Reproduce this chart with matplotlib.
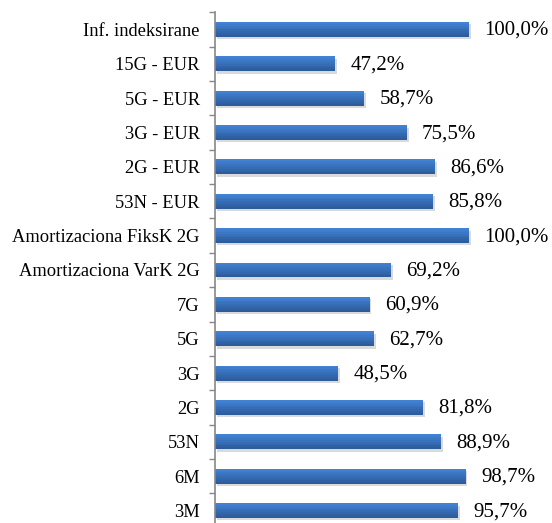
import matplotlib
matplotlib.use("Agg")
import matplotlib.pyplot as plt
import matplotlib.colors as mcolors
import numpy as np

categories = ["Inf. indeksirane", "15G - EUR", "5G - EUR", "3G - EUR", "2G - EUR",
              "53N - EUR", "Amortizaciona FiksK 2G", "Amortizaciona VarK 2G",
              "7G", "5G", "3G", "2G", "53N", "6M", "3M"]
values = [100.0, 47.2, 58.7, 75.5, 86.6, 85.8, 100.0, 69.2, 60.9, 62.7, 48.5, 81.8, 88.9, 98.7, 95.7]
value_labels = ["100,0%", "47,2%", "58,7%", "75,5%", "86,6%", "85,8%", "100,0%", "69,2%",
                "60,9%", "62,7%", "48,5%", "81,8%", "88,9%", "98,7%", "95,7%"]

plt.rcParams['font.family'] = ['Liberation Serif', 'DejaVu Serif']

fig = plt.figure(figsize=(5.52, 5.23), dpi=100)
W, H = 552, 523
left_px, right_px = 215, 552
top_px, bot_px = 12.3, 527.7
ax = fig.add_axes([left_px / W, (H - bot_px) / H, (right_px - left_px) / W, (bot_px - top_px) / H])

n = len(categories)
y = np.arange(n)
xmax = 100 * (right_px - left_px) / (470 - 216)
bh = 0.43

# shadow
ax.barh(y + 0.07, values, height=bh, left=0.7, color="#bdbdbd", alpha=0.55, zorder=1)
# gradient bar in horizontal slices
top_c = np.array(mcolors.to_rgb("#4282d4"))
bot_c = np.array(mcolors.to_rgb("#2d5c9c"))
ns = 8
for k in range(ns):
    t = k / (ns - 1)
    c = top_c * (1 - t) + bot_c * t
    yc = y - bh / 2 + (k + 0.5) * bh / ns
    ax.barh(yc, values, height=bh / ns * 1.05, color=c, linewidth=0, zorder=2)

for yi, v, lab in zip(y, values, value_labels):
    ax.annotate(lab, (v, yi + 0.03), xytext=(11, 0), textcoords="offset points",
                va="center", ha="left", fontsize=15, color="black", annotation_clip=False)

ax.set_xlim(0, xmax)
ax.set_ylim(n - 0.5, -0.5)
ax.set_yticks(y)
ax.set_yticklabels(categories, fontsize=13.3)
ax.tick_params(axis="y", which="major", length=0, pad=11)
ax.set_yticks(np.arange(-0.5, n, 1.0), minor=True)
ax.tick_params(axis="y", which="minor", length=4, width=1, color="#888888", direction="out")
ax.set_xticks([])
for s in ["top", "right", "bottom"]:
    ax.spines[s].set_visible(False)
ax.spines["left"].set_color("#888888")
ax.spines["left"].set_linewidth(1.2)

fig.savefig("out.png", dpi=100)
